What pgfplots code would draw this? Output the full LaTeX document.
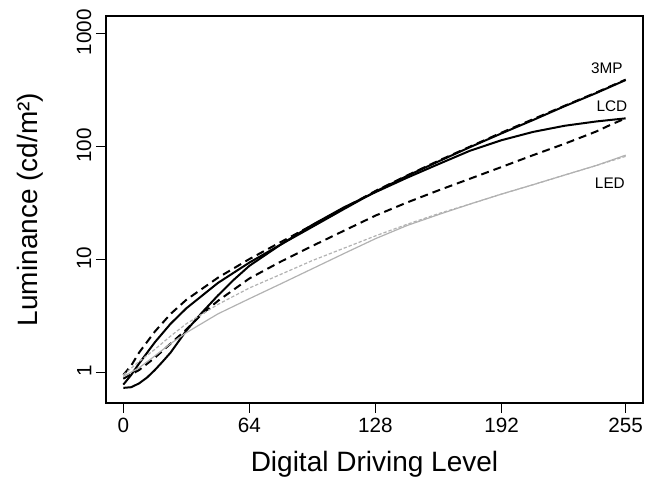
\documentclass[border=0pt]{standalone}
\usepackage{fontspec}
\setmainfont{Liberation Sans}
\usepackage{pgfplots}
\pgfplotsset{compat=1.18}
\definecolor{ledgray}{RGB}{178,178,178}

\begin{document}
\begin{tikzpicture}
% fixed page frame (646x480 px at 0.75pt per px)
\path[use as bounding box] (-79.5pt,-57.75pt) rectangle (405pt,302.25pt);
\begin{axis}[name=ax,at={(0,0)},anchor=south west,
	scale only axis,width=402.75pt,height=290.25pt,
	ymode=log,xmin=-8.8,xmax=263.8,ymin=0.536,ymax=1435,
	xtick={0,64,128,192,255},
	ytick={1,10,100,1000},yticklabels={1,10,100,1000},
	yminorticks=false,
	tick align=outside,tick pos=left,major tick length=7.5pt,
	axis line style={line width=0.9pt},
	every tick/.style={line width=0.9pt,black},
	/pgf/number format/assume math mode=true,
	tick label style={font=\fontsize{15.5}{18}\selectfont},
	yticklabel style={rotate=90,anchor=south,xshift=1pt},
	xlabel={Digital Driving Level},ylabel={Luminance (cd/m²)},
	label style={font=\fontsize{21}{25}\selectfont},
	xlabel style={at={(axis description cs:0.5,0)},anchor=center,yshift=-45.75pt},
	ylabel style={at={([xshift=-57pt]axis description cs:0,0.5)},anchor=center},
	clip=false]
% 3MP
\addplot[black,line width=1.5pt] coordinates {(0,0.78) (4,0.95) (8,1.2) (16,1.85) (24,2.7) (32,3.7) (48,6.2) (64,9.4) (80,13.6) (96,19.5) (112,28) (128,40) (144,55) (160,74) (176,99) (192,131) (208,172) (224,228) (240,298) (255,389)};
\addplot[black,line width=1.5pt,dash pattern=on 6pt off 3.75pt] coordinates {(0,0.95) (4,1.15) (8,1.5) (16,2.3) (24,3.3) (32,4.4) (48,6.9) (64,10.1) (80,14.3) (96,20.2) (112,28.5) (128,40.5) (144,55.5) (160,75) (176,100) (192,133) (208,175) (224,230) (240,301) (255,392)};
% LCD
\addplot[black,line width=1.5pt] coordinates {(0,0.73) (4,0.74) (8,0.8) (12,0.9) (16,1.05) (20,1.25) (24,1.5) (32,2.35) (40,3.4) (48,4.8) (56,6.6) (64,8.8) (80,13.6) (96,20.3) (112,29) (128,39.5) (144,53) (160,70) (176,92) (192,114) (208,135) (224,153) (240,167) (255,178)};
\addplot[black,line width=1.5pt,dash pattern=on 6pt off 3.75pt] coordinates {(0,0.88) (8,1.05) (16,1.35) (24,1.8) (32,2.4) (40,3.3) (48,4.3) (64,6.8) (80,9.6) (96,13.2) (112,18) (128,24.5) (144,32) (160,41) (176,52) (192,66) (208,84) (224,106) (240,136) (248,158) (255,178)};
% LED
\addplot[ledgray,line width=0.9pt] coordinates {(0,0.92) (8,1.1) (16,1.4) (24,1.8) (32,2.25) (48,3.3) (64,4.5) (80,6.1) (96,8.3) (112,11.3) (128,15.3) (144,20) (160,25) (176,31) (192,38) (208,46) (224,56) (240,68) (255,84)};
\addplot[ledgray,line width=0.9pt,dash pattern=on 2.5pt off 1.5pt] coordinates {(0,0.95) (8,1.25) (16,1.6) (24,2.1) (32,2.7) (48,4.0) (64,5.6) (80,7.4) (96,9.8) (112,12.6) (128,16.2) (144,20.5) (160,25.5) (176,31) (192,38) (208,46) (224,56) (240,68) (255,82)};
\node[font=\fontsize{11.5}{13}\selectfont] at (axis cs:245.5,497) {3MP};
\node[font=\fontsize{11.5}{13}\selectfont] at (axis cs:248,229) {LCD};
\node[font=\fontsize{11.5}{13}\selectfont] at (axis cs:247,47.7) {LED};
\end{axis}
\end{tikzpicture}
\end{document}
